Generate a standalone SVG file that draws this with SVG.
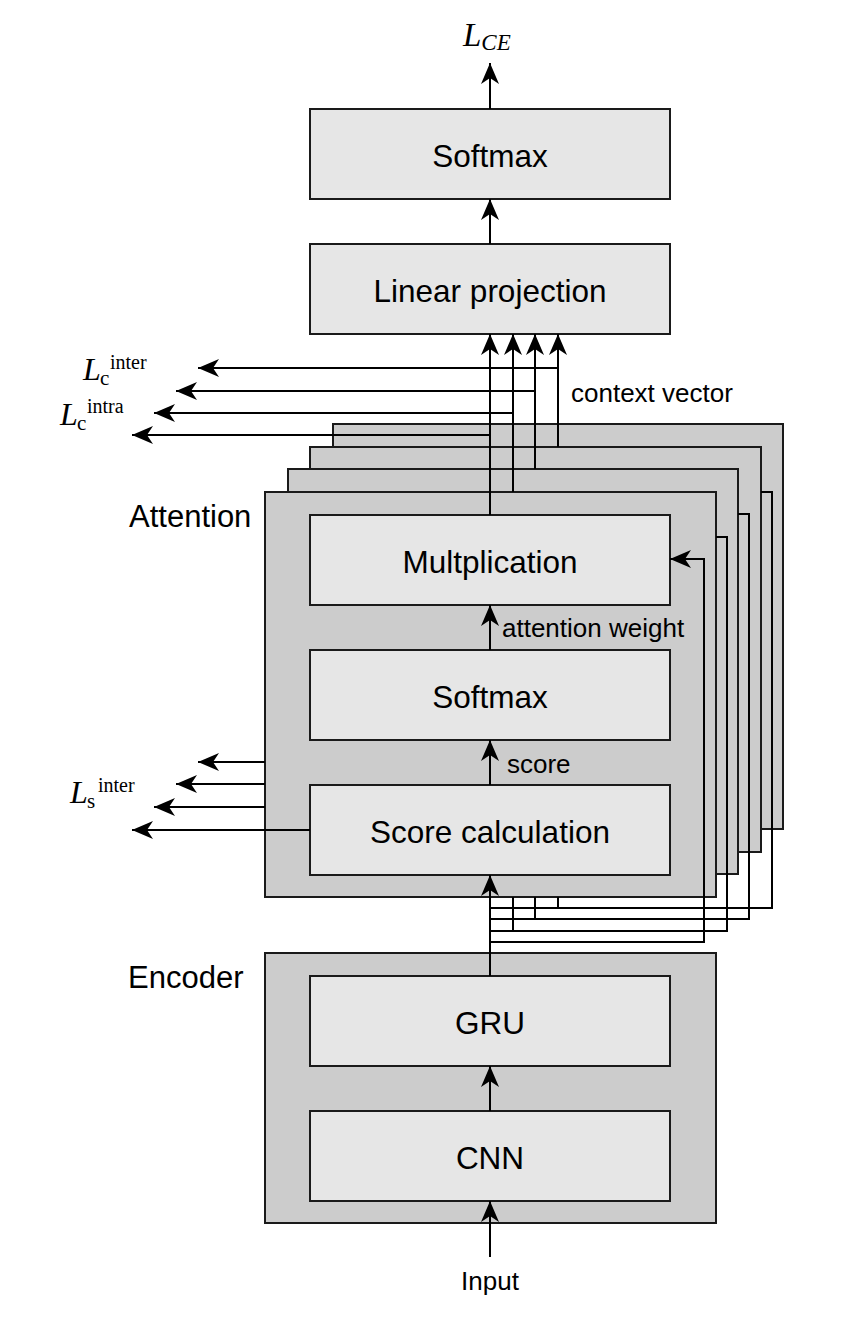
<svg xmlns="http://www.w3.org/2000/svg" width="868" height="1320" viewBox="0 0 868 1320">
<style>
.outer{fill:#cccccc;stroke:#1a1a1a;stroke-width:2}
.inner{fill:#e6e6e6;stroke:#1a1a1a;stroke-width:2}
.t{font-family:"Liberation Sans",Arial,sans-serif;font-size:31.5px;fill:#000;text-anchor:middle}
.lab{font-family:"Liberation Sans",Arial,sans-serif;font-size:31px;fill:#000}
.sm{font-family:"Liberation Sans",Arial,sans-serif;font-size:26px;fill:#000}
.m{font-family:"Liberation Serif","Times New Roman",serif;fill:#000}
.c{fill:none;stroke:#000;stroke-width:2}
.a{marker-end:url(#ah)}
</style>
<defs>
<marker id="ah" markerUnits="userSpaceOnUse" markerWidth="22" markerHeight="20" viewBox="0 0 22 20" refX="21" refY="10" orient="auto">
<path d="M0,1 L21,10 L0,19 L6,10 Z" fill="#000"/>
</marker>
</defs>

<g id="softmax-out">
<rect class="inner" x="310" y="109" width="360" height="90"/>
<text class="t" x="490" y="167">Softmax</text>
</g>
<g id="linear-projection">
<rect class="inner" x="310" y="244" width="360" height="90"/>
<text class="t" x="490" y="302" font-size="32">Linear projection</text>
</g>

<g id="attention-4"><rect class="outer" x="333" y="424" width="450" height="405"/></g>
<g id="attention-3"><rect class="outer" x="310" y="447" width="451" height="405"/></g>
<g id="attention-2"><rect class="outer" x="288" y="469" width="450" height="405"/></g>
<g id="attention">
<rect class="outer" x="265" y="492" width="451" height="405"/>
<text class="lab" x="129" y="527">Attention</text>
</g>
<g id="multiplication">
<rect class="inner" x="310" y="515" width="360" height="90"/>
<text class="t" x="490" y="573">Multplication</text>
</g>
<g id="softmax-att">
<rect class="inner" x="310" y="650" width="360" height="90"/>
<text class="t" x="490" y="708">Softmax</text>
</g>
<g id="score-calculation">
<rect class="inner" x="310" y="785" width="360" height="90"/>
<text class="t" x="490" y="843">Score calculation</text>
</g>

<g id="encoder">
<rect class="outer" x="265" y="953" width="451" height="270"/>
<text class="lab" x="128" y="988" font-size="33">Encoder</text>
</g>
<g id="gru">
<rect class="inner" x="310" y="976" width="360" height="90"/>
<text class="t" x="490" y="1034">GRU</text>
</g>
<g id="cnn">
<rect class="inner" x="310" y="1111" width="360" height="90"/>
<text class="t" x="490" y="1169">CNN</text>
</g>

<g id="connectors">
<path class="c a" d="M490,109 V63"/>
<path class="c a" d="M490,244 V199"/>
<path class="c a" d="M490,515 V334"/>
<path class="c a" d="M513,492 V334"/>
<path class="c a" d="M535,469 V334"/>
<path class="c a" d="M558,447 V334"/>
<path class="c a" d="M490,435 H132"/>
<path class="c a" d="M513,413 H154"/>
<path class="c a" d="M535,391 H176"/>
<path class="c a" d="M558,368 H198"/>
<path class="c a" d="M490,650 V605"/>
<path class="c a" d="M490,785 V740"/>
<path class="c a" d="M265,762 H198"/>
<path class="c a" d="M265,784 H176"/>
<path class="c a" d="M265,807 H154"/>
<path class="c a" d="M310,830 H132"/>
<path class="c a" d="M490,976 V875"/>
<path class="c" d="M490,908 H772 V492 H761"/>
<path class="c" d="M490,919 H749 V514 H738"/>
<path class="c" d="M490,931 H727 V537 H716"/>
<path class="c a" d="M490,942 H704 V559 H670"/>
<path class="c" d="M513,931 V897"/>
<path class="c" d="M535,919 V897"/>
<path class="c" d="M558,908 V897"/>
<path class="c a" d="M490,1111 V1066"/>
<path class="c a" d="M490,1257 V1201"/>
</g>

<g id="labels">
<text class="sm" x="571" y="402" font-size="26.5">context vector</text>
<text class="sm" x="502" y="637">attention weight</text>
<text class="sm" x="507" y="773">score</text>
<text class="sm" x="490" y="1290" text-anchor="middle" font-size="25">Input</text>
<text class="m" x="463" y="46" font-size="33" font-style="italic">L<tspan font-size="23" dy="4">CE</tspan></text>
<text class="m" x="83" y="380" font-size="32" font-style="italic">L</text>
<text class="m" x="100" y="385" font-size="21">c</text>
<text class="m" x="110" y="369" font-size="20">inter</text>
<text class="m" x="60" y="425" font-size="32" font-style="italic">L</text>
<text class="m" x="77" y="430" font-size="21">c</text>
<text class="m" x="87" y="413" font-size="20">intra</text>
<text class="m" x="70" y="803" font-size="32" font-style="italic">L</text>
<text class="m" x="87" y="808" font-size="21">s</text>
<text class="m" x="98" y="792" font-size="20">inter</text>
</g>
</svg>
